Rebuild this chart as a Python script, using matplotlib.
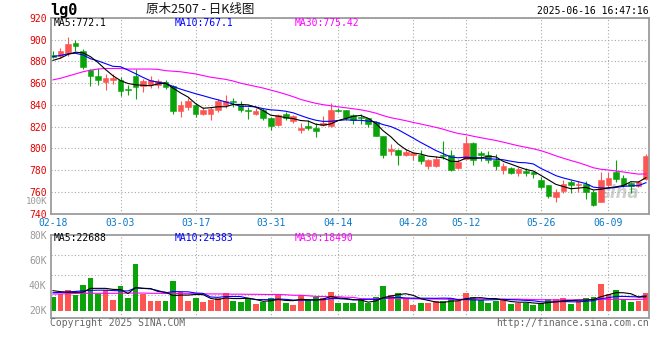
"""Daily K-line chart for log futures lg0 (原木2507), Sina style."""

import matplotlib

matplotlib.use("Agg")
import matplotlib.pyplot as plt
import numpy as np
import pandas as pd

W, H = 660, 360
MONO = "DejaVu Sans Mono"

# --- data --------------------------------------------------------------------
OPEN = [886, 885, 888, 897, 890, 872, 866.5, 861.5, 862.5, 862.5,
        855, 866.5, 857, 858, 858.5, 861.5, 857.5, 834, 838, 840,
        832, 832, 835, 839.5, 844, 840, 835.5, 832, 835, 828,
        821.5, 832, 825, 817, 820.5, 819, 821.5, 821, 835.5, 835,
        831, 828.5, 827.5, 824, 811, 798, 798.5, 794, 793.5, 794,
        783.5, 784, 794, 794, 782, 790.5, 804.5, 796, 794, 789,
        780.5, 782, 777.5, 779.5, 778, 771, 766, 755.5, 760.5, 769,
        766, 767.5, 760, 751, 766, 778, 773, 768, 765.5, 771.5]
HIGH = [889.5, 892, 902.5, 900, 891, 873.5, 874, 868, 868, 865.5,
        858.5, 873.5, 864, 867, 864, 863, 858, 844, 846.5, 842,
        838.5, 838.5, 845.5, 849.5, 846.5, 843.5, 838, 837.5, 837.5, 828.5,
        831.5, 833.5, 830.5, 823.5, 826.5, 823.5, 829.5, 842, 837.5, 835.5,
        832, 831.5, 828, 825, 811.5, 804, 799, 799, 797, 798.5,
        790.5, 793, 807, 798.5, 790, 811.5, 805.5, 797.5, 798, 795,
        786.5, 782.5, 783, 782, 779.5, 773.5, 766.5, 763, 770.5, 770.5,
        769.5, 769.5, 761.5, 778, 778, 789.5, 775, 769, 770, 795]
LOW = [883, 883.5, 885, 890, 873.5, 857, 858, 854, 859, 848.5,
       849.5, 845, 851.5, 856, 856, 854.5, 832, 829, 835.5, 829,
       830.5, 826, 833.5, 837, 838, 833, 827, 830.5, 826.5, 817,
       820.5, 826, 823.5, 814, 817, 810, 821, 820, 833, 826.5,
       822.5, 822.5, 820, 811, 791, 793.5, 784.5, 792.5, 789, 785.5,
       781, 782.5, 790, 779.5, 781, 789.5, 784.5, 788, 786.5, 780.5,
       776, 776, 774.5, 774.5, 773, 763, 754, 750.5, 758.5, 758.5,
       760, 753.5, 746.5, 750.5, 764.5, 769, 764.5, 758.5, 764.5, 770.5]
CLOSE = [884.5, 889.5, 896.5, 894, 875, 867, 862.5, 864.5, 865, 853,
         853.5, 856.5, 862, 863, 862, 856.5, 834, 839.5, 844, 832,
         835, 836.5, 844, 844, 842.5, 835, 834.5, 834, 828, 821,
         830.5, 828, 829.5, 819, 818.5, 816, 823.5, 835.5, 834.5, 828,
         826, 827.5, 822, 811.5, 793.5, 799, 793.5, 797, 796, 788,
         789.5, 790, 792.5, 780.5, 787, 805, 789, 794, 789, 783.5,
         784, 777, 781, 777.5, 776, 764, 756.5, 760, 767.5, 766,
         767, 760, 748, 770.5, 773, 771.5, 766, 765.5, 769, 793]
# volume bar tops in the panel's own (K) units
VOLUME = [30.6, 32.7, 35.9, 32.0, 39.9, 45.7, 32.7, 35.9, 28.0, 39.1,
          29.8, 56.7, 32.7, 27.2, 27.2, 27.2, 43.1, 34.6, 27.2, 29.8,
          26.6, 28.0, 29.8, 33.8, 27.4, 26.6, 29.3, 24.8, 26.6, 29.3,
          32.0, 25.3, 24.0, 32.0, 28.0, 30.1, 29.3, 34.6, 25.8, 25.8,
          25.8, 28.0, 25.8, 30.6, 39.1, 32.0, 33.8, 29.3, 24.0, 25.8,
          25.3, 27.4, 27.4, 29.3, 27.4, 33.8, 30.6, 28.0, 25.8, 27.2,
          28.0, 24.8, 25.3, 25.8, 24.0, 25.8, 28.8, 28.8, 29.3, 24.8,
          27.4, 29.3, 30.6, 40.7, 32.7, 35.9, 28.8, 26.6, 27.4, 33.8]
VOL_BASE = 19.45

# moving-average values before a full window exists
MA5_HEAD = [881, 883, 886.5, 888.5]
MA10_HEAD = [884.5, 885.5, 887, 887.5, 886, 882.5, 880.5, 878, 875.5]
MA30_HEAD = [863, 864.5, 866.5, 868.5, 870.5, 872, 873, 873.5, 873.5, 873.5,
             873, 873, 873, 873, 872.7, 871.5, 871, 870.5, 869.5, 868.5,
             867, 865.5, 864.5, 863.5, 862, 860, 858.5, 857, 855.5]
VMA5_HEAD = [35.4, 34.6, 34.1, 34.0]
VMA10_HEAD = [33.8, 34.0, 34.4, 34.8, 35.3, 35.6, 35.8, 35.8, 35.5]
VMA30_HEAD = [32.7, 32.8, 33.0, 33.2, 33.3, 33.3, 33.3, 33.3, 33.3, 33.3,
              33.5, 33.5, 33.5, 33.3, 33.3, 33.2, 33.2, 33.0, 33.0, 33.0,
              32.9, 32.8, 32.8, 32.7, 32.6, 32.6, 32.5, 32.5, 32.4]

DATE_LABELS = ["02-18", "03-03", "03-17", "03-31", "04-14",
               "04-28", "05-12", "05-26", "06-09"]
DATE_IDX = [0, 9, 19, 29, 38, 48, 55, 65, 74]
PRICE_TICKS = list(range(740, 921, 20))
VOL_TICKS = [20, 40, 60, 80]
VOL_TICK_LABELS = ["20K", "40K", "60K", "80K"]

UP = "#fc5552"
DOWN = "#0aa40a"
GRID = "#a8a8a8"
FRAME = "#9c9c9c"


def moving_average(values, window, head):
    out = pd.Series(values, dtype=float).rolling(window).mean().to_numpy()
    out[: len(head)] = head
    return out


def px_box(left, top, right, bottom):
    return [left / W, 1 - bottom / H, (right - left) / W, (bottom - top) / H]


def ftext(x, y, s, **kw):
    kw.setdefault("va", "center")
    kw.setdefault("fontfamily", MONO)
    kw.setdefault("fontsize", 7)
    fig.text(x / W, 1 - y / H, s, **kw)


def frame(ax):
    for sp in ax.spines.values():
        sp.set_color(FRAME)
        sp.set_linewidth(1.3)
        sp.set_zorder(5)


o, h, l, c = (np.array(a, dtype=float) for a in (OPEN, HIGH, LOW, CLOSE))
x = np.arange(len(c))
up = c >= o
colors = np.where(up, UP, DOWN)

fig = plt.figure(figsize=(W / 100, H / 100), dpi=100)
fig.patch.set_facecolor("white")

# --- price panel -------------------------------------------------------------
ax = fig.add_axes(px_box(50.7, 18, 649, 213.5))
ax.set_xlim(-0.3, 79.4)
ax.set_ylim(740, 920)
ax.set_yticks(PRICE_TICKS)
ax.set_xticks(DATE_IDX, DATE_LABELS)
ax.tick_params(axis="y", length=0, pad=3, labelsize=7, labelcolor="#e60000",
               labelfontfamily=MONO)
ax.tick_params(axis="x", length=0, pad=3, labelsize=7, labelcolor="#0a78c8",
               labelfontfamily=MONO)
ax.grid(axis="y", color=GRID, linestyle=(0, (1, 2)), lw=0.8)
for idx in DATE_IDX[1:]:
    ax.axvline(idx, color=GRID, linestyle=(0, (1, 2)), lw=0.8, zorder=0)
frame(ax)

ax.vlines(x, l, h, colors=colors, lw=0.8, zorder=2)
body = np.maximum(np.abs(c - o), 0.35)
ax.bar(x, body, bottom=np.minimum(o, c), width=0.76, color=colors,
       edgecolor=colors, lw=0.4, zorder=3)

ma5 = moving_average(c, 5, MA5_HEAD)
ma10 = moving_average(c, 10, MA10_HEAD)
ma30 = moving_average(c, 30, MA30_HEAD)
ax.plot(x, ma30, color="#ff00ff", lw=0.8, zorder=4)
ax.plot(x, ma10, color="#0000ff", lw=0.8, zorder=4)
ax.plot(x, ma5, color="black", lw=0.8, zorder=4)

ax.text(0.985, 0.06, "sina", transform=ax.transAxes, ha="right", va="bottom",
        fontsize=12, fontweight="bold", style="italic", color="#cfcfcf", zorder=1)

# --- volume panel ------------------------------------------------------------
vax = fig.add_axes(px_box(50.7, 234.7, 649, 317.7))
vol_lo, vol_hi = 13.86, 80
vax.set_xlim(-0.3, 79.4)
vax.set_ylim(vol_lo, vol_hi)
vax.set_xticks([])
vax.set_yticks(VOL_TICKS, VOL_TICK_LABELS)
vax.tick_params(axis="y", length=0, pad=3, labelsize=7, labelcolor="#999999",
                labelfontfamily=MONO)
for f in (0.273, 0.514, 0.755):
    vax.axhline(vol_lo + f * (vol_hi - vol_lo), color=GRID,
                linestyle=(0, (1, 2)), lw=0.8, zorder=0)
for idx in DATE_IDX[1:]:
    vax.axvline(idx, color=GRID, linestyle=(0, (1, 2)), lw=0.8, zorder=0)
frame(vax)

v = np.array(VOLUME)
vax.bar(x, v - VOL_BASE, bottom=VOL_BASE, width=0.78, color=colors, zorder=2)
vax.plot(x, moving_average(v, 30, VMA30_HEAD), color="#ff00ff", lw=0.8, zorder=3)
vax.plot(x, moving_average(v, 10, VMA10_HEAD), color="#0000ff", lw=0.8, zorder=3)
vax.plot(x, moving_average(v, 5, VMA5_HEAD), color="black", lw=0.8, zorder=3)

# --- texts -------------------------------------------------------------------
ftext(50, 10.5, "lg0", fontsize=11, fontweight="bold")
ftext(200, 10, "原木2507 - 日K线图", ha="center", fontsize=9,
      fontfamily=["Noto Sans CJK SC", "DejaVu Sans"], color="#111111")
ftext(649, 11, "2025-06-16 16:47:16", ha="right")

ftext(54, 23.5, "MA5:772.1")
ftext(175, 23.5, "MA10:767.1", color="#0000ff")
ftext(295, 23.5, "MA30:775.42", color="#ff00ff")

ftext(54, 238.3, "MA5:22688")
ftext(175, 238.3, "MA10:24383", color="#0000ff")
ftext(295, 238.3, "MA30:18490", color="#ff00ff")

ftext(47, 201, "100K", ha="right", color="#999999", fontsize=6.5)
ftext(50, 323, "Copyright 2025 SINA.COM", color="#666666")
ftext(649, 323, "http://finance.sina.com.cn", ha="right", color="#666666")

fig.savefig("out.png", dpi=100)
